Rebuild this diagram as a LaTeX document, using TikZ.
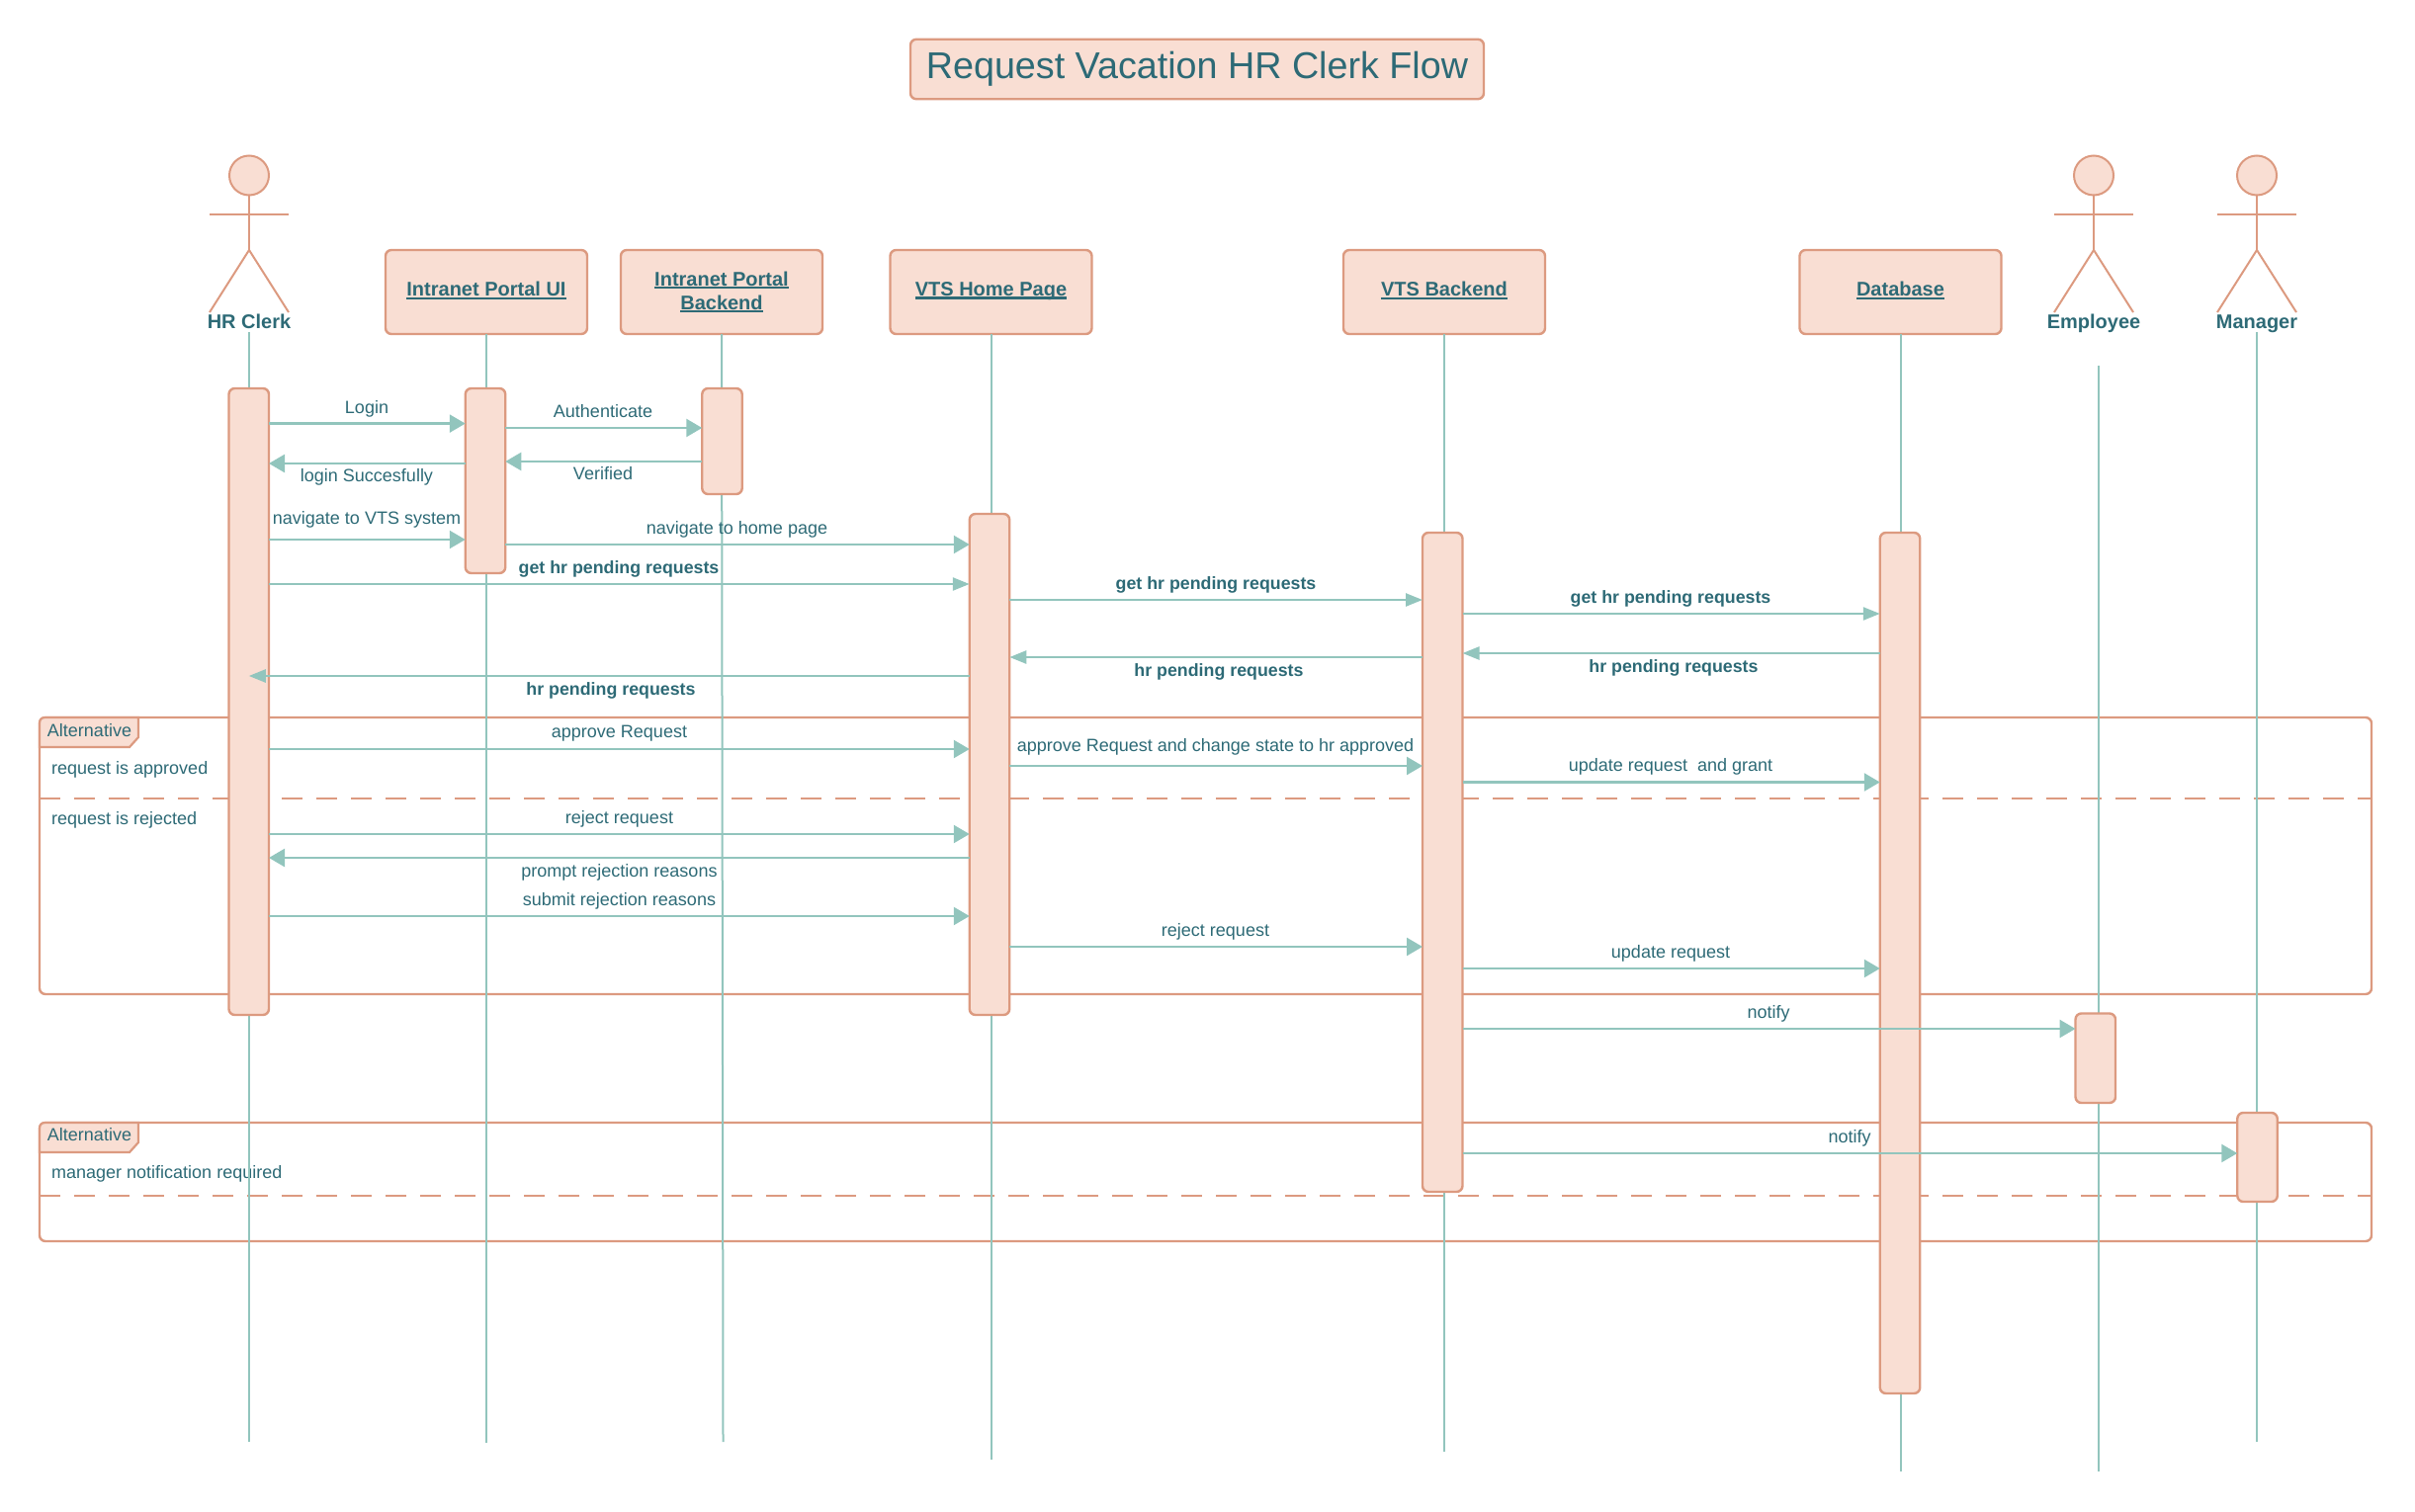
\documentclass[tikz,border=0pt]{standalone}
\usepackage{fontspec}
\setmainfont{Liberation Sans}
\usetikzlibrary{arrows.meta}
\definecolor{ShapeFill}{HTML}{F9DED3}
\definecolor{ShapeLine}{HTML}{DC9A80}
\definecolor{FlowLine}{HTML}{92C5BD}
\definecolor{TextTeal}{HTML}{2D6A76}
\newsavebox\UlineBox
\newcommand{\Uline}[1]{\sbox\UlineBox{#1}\usebox\UlineBox\llap{\rule[-3.4pt]{\wd\UlineBox}{2.4pt}}}
\begin{document}
\begin{tikzpicture}[x=1pt,y=-1pt]
	\tikzstyle{Filling} = [fill=ShapeFill,draw=ShapeLine,line width=2.4pt]
	\tikzstyle{BoxShape} = [Filling,rectangle,rounded corners=6pt,inner sep=0pt,outer sep=0pt]
	\tikzstyle{Party} = [BoxShape,minimum width=204pt,minimum height=85pt,align=center,text=TextTeal,font=\fontsize{20}{24}\selectfont\bfseries]
	\tikzstyle{Bar} = [BoxShape,minimum width=40.5pt]
	\tikzstyle{Frame} = [draw=ShapeLine,line width=2.4pt,rectangle,rounded corners=6pt,inner sep=0pt,outer sep=0pt]
	\tikzstyle{Tab} = [Filling,line width=2.2pt,rounded corners=0pt]
	\tikzstyle{Divider} = [draw=ShapeLine,line width=2.4pt,dash pattern=on 20.5pt off 14.5pt]
	\tikzstyle{Lifeline} = [draw=FlowLine,line width=2pt]
	\tikzstyle{Message} = [draw=FlowLine,line width=2.5pt,-{Triangle[length=16pt,width=18pt]}]
	\tikzstyle{SmallMessage} = [draw=FlowLine,line width=2.5pt,-{Triangle[length=17pt,width=13pt]}]
	\tikzstyle{Stick} = [draw=ShapeLine,line width=2pt]
	\tikzstyle{Label} = [text=TextTeal,inner sep=0pt,text height=13pt,text depth=4pt,font=\fontsize{18}{22}\selectfont]
	\tikzstyle{BoldLabel} = [Label,font=\fontsize{17.8}{22}\selectfont\bfseries]
	\tikzstyle{ActorLabel} = [Label,font=\fontsize{20}{24}\selectfont\bfseries]
	\useasboundingbox (0,0) rectangle (2443,1530);
	% title
	\node[BoxShape,minimum width=580pt,minimum height=60.5pt,text=TextTeal,font=\fontsize{37.7}{44}\selectfont] (Title) at (1211,70) {\raisebox{4pt}{Request Vacation HR Clerk Flow}};
	% alternative frames
	\node[Frame,minimum width=2359pt,minimum height=280pt] (FrameOne) at (1219.5,866) {};
	\node[Frame,minimum width=2359pt,minimum height=120pt] (FrameTwo) at (1219.5,1196) {};
	\filldraw[Tab] (40,756)--(131,756)--(140,746)--(140,726)--(46,726)..controls(42,726)and(40,728)..(40,732)--cycle;
	\filldraw[Tab] (40,1166)--(131,1166)--(140,1156)--(140,1136)--(46,1136)..controls(42,1136)and(40,1138)..(40,1142)--cycle;
	\draw[Divider] (FrameOne.west|-0,808)--(FrameOne.east|-0,808);
	\draw[Divider] (FrameTwo.west|-0,1210)--(FrameTwo.east|-0,1210);
	\draw (90.5,741) node[Label] (AltOne) {Alternative};
	\draw (90.5,1150) node[Label] (AltTwo) {Alternative};
	\draw (52,778.5) node[Label,anchor=west] (CaseApproved) {request is approved};
	\draw (52,830) node[Label,anchor=west] (CaseRejected) {request is rejected};
	\draw (52,1188) node[Label,anchor=west] (CaseManager) {manager notification required};
	% parties
	\node[Party] (UiBox) at (492,295.5) {\raisebox{6pt}{\Uline{Intranet Portal UI}}};
	\node[Party] (PortalBox) at (730,295.5) {\raisebox{2.8pt}{\Uline{Intranet Portal}}\\\raisebox{2.8pt}{\Uline{Backend}}};
	\node[Party] (HomeBox) at (1002.5,295.5) {\raisebox{6pt}{\Uline{VTS Home Page}}};
	\node[Party] (VtsBox) at (1461,295.5) {\raisebox{6pt}{\Uline{VTS Backend}}};
	\node[Party] (DbBox) at (1922.5,295.5) {\raisebox{6pt}{\Uline{Database}}};
	% actors
	\foreach \name/\px/\word in {Hr/252/HR Clerk,Employee/2118/Employee,Manager/2283/Manager}{
		\node[Filling,line width=2pt,circle,inner sep=0pt,outer sep=0pt,minimum size=40pt] (\name Head) at (\px,177.5) {};
		\draw[Stick] (\name Head.south)--(\px,253);
		\draw[Stick] (\px-40,217)--(\px+40,217);
		\draw[Stick] (\px-40,316)--(\px,253)--(\px+40,316);
		\draw (\px,327.5) node[ActorLabel] (\name Label) {\word};
	}
	% lifelines
	\coordinate (HrEnd) at (252,1459);
	\coordinate (UiEnd) at (492,1460);
	\coordinate (PortalEnd) at (731.5,1459);
	\coordinate (HomeEnd) at (1002.5,1477);
	\coordinate (VtsEnd) at (1461,1469);
	\coordinate (DbEnd) at (1922.5,1489);
	\coordinate (EmployeeTop) at (2123,370);
	\coordinate (EmployeeEnd) at (2123,1489);
	\coordinate (ManagerEnd) at (2283,1459);
	\draw[Lifeline] (HrLabel.south)--(HrEnd);
	\draw[Lifeline] (UiBox.south)--(UiEnd);
	\draw[Lifeline] (PortalBox.south)--(PortalEnd);
	\draw[Lifeline] (HomeBox.south)--(HomeEnd);
	\draw[Lifeline] (VtsBox.south)--(VtsEnd);
	\draw[Lifeline] (DbBox.south)--(DbEnd);
	\draw[Lifeline] (EmployeeTop)--(EmployeeEnd);
	\draw[Lifeline] (ManagerLabel.south)--(ManagerEnd);
	% activation bars
	\node[Bar,minimum height=634pt] (HrBar) at (251.75,710) {};
	\node[Bar,minimum height=187pt] (UiBar) at (491,486.5) {};
	\node[Bar,minimum height=107pt] (PortalBar) at (730.5,446.5) {};
	\node[Bar,minimum height=507pt] (HomeBar) at (1001,773.5) {};
	\node[Bar,minimum height=667pt] (VtsBar) at (1459.25,872.5) {};
	\node[Bar,minimum height=871pt] (DbBar) at (1922,974.5) {};
	\node[Bar,minimum height=90.5pt] (EmployeeBar) at (2119.75,1070.75) {};
	\node[Bar,minimum height=90pt] (ManagerBar) at (2283.5,1171) {};
	% messages
	\draw[Message] (HrBar.east|-0,428.6)--(UiBar.west|-0,428.6);
	\draw (371,414) node[Label] (LoginText) {Login};
	\draw[Message] (UiBar.west|-0,469)--(HrBar.east|-0,469);
	\draw (371,483) node[Label] (SuccessText) {login Succesfully};
	\draw[Message] (UiBar.east|-0,433)--(PortalBar.west|-0,433);
	\draw (610,418) node[Label] (AuthText) {Authenticate};
	\draw[Message] (PortalBar.west|-0,467)--(UiBar.east|-0,467);
	\draw (610,481) node[Label] (VerifiedText) {Verified};
	\draw[Message] (HrBar.east|-0,546)--(UiBar.west|-0,546);
	\draw (371,526) node[Label] (NavVtsText) {navigate to VTS system};
	\draw[Message] (UiBar.east|-0,551)--(HomeBar.west|-0,551);
	\draw (745.5,535.5) node[Label] (NavHomeText) {navigate to home page};
	\draw[SmallMessage] (HrBar.east|-0,591)--(HomeBar.west|-0,591);
	\draw (626,575.5) node[BoldLabel] (PendOne) {get hr pending requests};
	\draw[SmallMessage] (HomeBar.east|-0,607)--(VtsBar.west|-0,607);
	\draw (1230,591.5) node[BoldLabel] (PendTwo) {get hr pending requests};
	\draw[SmallMessage] (VtsBar.east|-0,621)--(DbBar.west|-0,621);
	\draw (1690,606) node[BoldLabel] (PendThree) {get hr pending requests};
	\draw[SmallMessage] (DbBar.west|-0,661)--(VtsBar.east|-0,661);
	\draw (1693,675.5) node[BoldLabel] (BackOne) {hr pending requests};
	\draw[SmallMessage] (VtsBar.west|-0,665)--(HomeBar.east|-0,665);
	\draw (1233,679.5) node[BoldLabel] (BackTwo) {hr pending requests};
	\draw[SmallMessage] (HomeBar.west|-0,684)--(HrBar.center|-0,684);
	\draw (618,699) node[BoldLabel] (BackThree) {hr pending requests};
	\draw[Message] (HrBar.east|-0,758)--(HomeBar.west|-0,758);
	\draw (626.5,741.5) node[Label] (ApproveText) {approve Request};
	\draw[Message] (HomeBar.east|-0,775)--(VtsBar.west|-0,775);
	\draw (1229.5,755.5) node[Label] (ChangeText) {approve Request and change state to hr approved};
	\draw[Message] (VtsBar.east|-0,791.5)--(DbBar.west|-0,791.5);
	\draw (1690,776) node[Label] (GrantText) {update request\ \ and grant};
	\draw[Message] (HrBar.east|-0,844)--(HomeBar.west|-0,844);
	\draw (626.5,828.5) node[Label] (RejectText) {reject request};
	\draw[Message] (HomeBar.west|-0,868)--(HrBar.east|-0,868);
	\draw (626.5,882.5) node[Label] (PromptText) {prompt rejection reasons};
	\draw[Message] (HrBar.east|-0,927)--(HomeBar.west|-0,927);
	\draw (626.5,911.5) node[Label] (SubmitText) {submit rejection reasons};
	\draw[Message] (HomeBar.east|-0,958)--(VtsBar.west|-0,958);
	\draw (1229.5,942.5) node[Label] (RejectTwoText) {reject request};
	\draw[Message] (VtsBar.east|-0,980)--(DbBar.west|-0,980);
	\draw (1690,964.5) node[Label] (UpdateText) {update request};
	\draw[Message] (VtsBar.east|-0,1041)--(EmployeeBar.west|-0,1041);
	\draw (1789,1025.5) node[Label] (NotifyOne) {notify};
	\draw[Message] (VtsBar.east|-0,1167)--(ManagerBar.west|-0,1167);
	\draw (1871,1151.5) node[Label] (NotifyTwo) {notify};
	\end{tikzpicture}
\end{document}
